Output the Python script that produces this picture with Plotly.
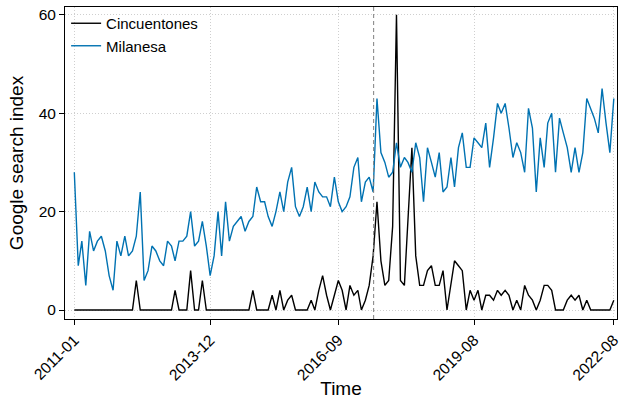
import pandas as pd
import plotly.graph_objects as go

start_month = "2011-01-01"
n_months = 140
months = pd.date_range(start_month, periods=n_months, freq="MS")

cincuentones = [
    0, 0, 0, 0, 0, 0, 0, 0, 0, 0, 0, 0, 0, 0, 0, 0, 6, 0, 0, 0,
    0, 0, 0, 0, 0, 0, 4, 0, 0, 0, 8, 0, 0, 6, 0, 0, 0, 0, 0, 0,
    0, 0, 0, 0, 0, 0, 4, 0, 0, 0, 0, 3, 0, 4, 0, 2, 3, 0, 0, 0,
    0, 2, 0, 4, 7, 3, 0, 3, 6, 4, 0, 5, 3, 4, 0, 2, 5, 11, 22, 10,
    5, 6, 17, 60, 6, 5, 19, 33, 11, 5, 5, 8, 9, 5, 5, 8, 0, 5, 10, 9,
    8, 0, 4, 2, 4, 0, 3, 3, 2, 4, 3, 4, 3, 0, 2, 0, 5, 3, 2, 0,
    2, 5, 5, 4, 0, 0, 0, 2, 3, 2, 3, 0, 2, 0, 0, 0, 0, 0, 0, 2,
]
milanesa = [
    28, 9, 14, 5, 16, 12, 14, 15, 12, 7, 4, 14, 11, 15, 11, 12, 15, 24, 6, 8,
    13, 12, 10, 9, 14, 13, 10, 14, 14, 15, 20, 13, 14, 18, 13, 7, 11, 20, 11, 22,
    14, 17, 18, 19, 16, 18, 19, 25, 22, 22, 19, 17, 20, 24, 20, 26, 29, 21, 19, 21,
    25, 20, 26, 24, 23, 23, 21, 27, 22, 20, 21, 23, 29, 31, 22, 26, 27, 24, 43, 32,
    30, 27, 28, 34, 29, 31, 30, 28, 34, 31, 22, 33, 30, 27, 32, 24, 25, 31, 25, 33,
    36, 29, 29, 35, 34, 33, 38, 29, 35, 42, 40, 42, 37, 31, 34, 32, 28, 41, 37, 24,
    35, 29, 38, 40, 28, 39, 36, 33, 28, 33, 28, 32, 43, 41, 39, 36, 45, 38, 32, 43,
]
series_names = ["Cincuentones", "Milanesa"]
series_colors = ["#000000", "#0072B2"]
tick_dates = ["2011-01-01", "2013-12-01", "2016-09-01", "2019-08-01", "2022-08-01"]
tick_labels = ["2011-01", "2013-12", "2016-09", "2019-08", "2022-08"]
y_ticks = [0, 20, 40, 60]
event_date = "2017-06-05"

FONT = "Liberation Sans, Arial, sans-serif"

fig = go.Figure()
for name, vals, col in zip(series_names, [cincuentones, milanesa], series_colors):
    fig.add_trace(go.Scatter(x=months, y=vals, mode="lines", name=name,
                             line=dict(color=col, width=1.4)))

fig.add_shape(type="line", xref="x", yref="paper", x0=event_date, x1=event_date,
              y0=0, y1=1, line=dict(color="#7f7f7f", width=1, dash="4px,3px"))

x_start = pd.Timestamp(start_month) - pd.Timedelta(days=73)
x_end = months[-1] + pd.Timedelta(days=25)

axis_common = dict(showline=True, linecolor="black", linewidth=1, mirror=True,
                   ticks="outside", ticklen=5, tickcolor="black", tickwidth=1,
                   showgrid=True, gridcolor="#cfcfcf", gridwidth=1, griddash="1px,2px",
                   zeroline=False, automargin=False, ticklabeloverflow="allow",
                   tickfont=dict(family=FONT, size=15.5, color="black"),
                   title_font=dict(family=FONT, size=19, color="black"))

fig.update_xaxes(type="date", range=[x_start, x_end], tickmode="array",
                 tickvals=tick_dates, ticktext=tick_labels, tickangle=-45,
                 title_text="Time", title_standoff=10, **axis_common)
fig.update_yaxes(range=[-1.83, 61.6], tickmode="array", tickvals=y_ticks,
                 title_text="Google search index", title_standoff=10, **axis_common)

fig.update_layout(
    width=620, height=399, template="none",
    paper_bgcolor="white", plot_bgcolor="white",
    margin=dict(l=65, r=3, t=7, b=80),
    font=dict(family=FONT, size=15, color="black"),
    legend=dict(x=0.002, y=1.0, xanchor="left", yanchor="top",
                bgcolor="rgba(0,0,0,0)", borderwidth=0,
                font=dict(family=FONT, size=15, color="black"),
                itemwidth=30, tracegroupgap=0),
    showlegend=True,
)

fig.write_html("out.html", config={"displayModeBar": False},
               post_script="document.body.style.margin='0';document.body.style.padding='0';")
